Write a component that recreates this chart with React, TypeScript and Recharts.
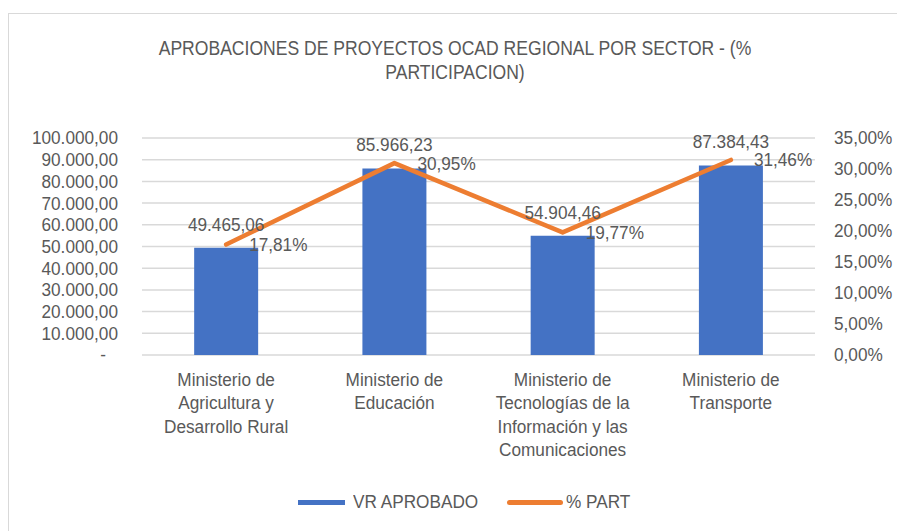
import { ComposedChart, Bar, Line, XAxis, YAxis, CartesianGrid, LabelList } from 'recharts';

const FONT = "'Liberation Sans', Arial, sans-serif";
const TEXT = '#595959';
const SX = 0.93; // reference font is a bit narrower than Arial

const categories = [
    'Ministerio de Agricultura y Desarrollo Rural',
    'Ministerio de Educación',
    'Ministerio de Tecnologías de la Información y las Comunicaciones',
    'Ministerio de Transporte',
];
const categoryLines = [
    ['Ministerio de', 'Agricultura y', 'Desarrollo Rural'],
    ['Ministerio de', 'Educación'],
    ['Ministerio de', 'Tecnologías de la', 'Información y las', 'Comunicaciones'],
    ['Ministerio de', 'Transporte'],
];
const vrAprobado = [49465.06, 85966.23, 54904.46, 87384.43];
const pctPart = [0.1781, 0.3095, 0.1977, 0.3146];

const leftTicks = [0, 10000, 20000, 30000, 40000, 50000, 60000, 70000, 80000, 90000, 100000];
const rightTicks = [0, 0.05, 0.1, 0.15, 0.2, 0.25, 0.3, 0.35];

const data = categories.map((c, i) => ({ name: c, vr: vrAprobado[i], pct: pctPart[i] }));

function fmtNum(n: number) {
    if (n === 0) return '-';
    const [int, dec] = n.toFixed(2).split('.');
    return int.replace(/\B(?=(\d{3})+(?!\d))/g, '.') + ',' + dec;
}
const fmtPct = (v: number) => (v * 100).toFixed(2).replace('.', ',') + '%';

// narrow text drawn at (x, y)
function NText({ x, y, anchor = 'start', dy, children }: any) {
    return (
        <g transform={`translate(${x} ${y}) scale(${SX} 1)`}>
            <text x={0} y={0} dy={dy} textAnchor={anchor} fill={TEXT} fontSize={18.5} fontFamily={FONT}>
                {children}
            </text>
        </g>
    );
}

function CategoryTick({ x, y, index }: any) {
    const lines = categoryLines[index] || [];
    return (
        <g>
            {lines.map((l, i) => (
                <NText key={i} x={x} y={y + 23 + i * 23.4} anchor="middle">{l}</NText>
            ))}
        </g>
    );
}

function LeftTick({ x, y, payload }: any) {
    const zero = payload.value === 0;
    return <NText x={zero ? x - 12 : x} y={y} dy="0.35em" anchor="end">{fmtNum(payload.value)}</NText>;
}

function RightTick({ x, y, payload }: any) {
    return <NText x={x} y={y} dy="0.35em">{fmtPct(payload.value)}</NText>;
}

function BarValueLabel(p: any) {
    return <NText x={Number(p.x) + Number(p.width) / 2} y={Number(p.y) - 17} anchor="middle">{fmtNum(Number(p.value))}</NText>;
}

function PctLabel(p: any) {
    return <NText x={Number(p.x) + 23} y={Number(p.y)} dy="0.35em">{fmtPct(Number(p.value))}</NText>;
}

const htmlText = (left: number, top: number, text: string) => (
    <span
        style={{
            position: 'absolute', left, top, whiteSpace: 'nowrap', transform: `scaleX(${SX})`,
            transformOrigin: 'left center', fontFamily: FONT, fontSize: 18.5, lineHeight: '22px', color: TEXT,
        }}
    >
        {text}
    </span>
);

export default function App() {
    return (
        <div style={{ position: 'relative', width: 897, height: 531, background: '#fff', overflow: 'hidden' }}>
            <style>{'body{margin:0}'}</style>
            <div style={{ position: 'absolute', left: 8, top: 13, width: 1000, height: 1000, border: '1.5px solid #d9d9d9' }} />
            <div
                style={{
                    position: 'absolute', left: 0, top: 36, width: 910, textAlign: 'center',
                    fontFamily: FONT, fontSize: 19.5, lineHeight: '24px', color: TEXT,
                    transform: 'scaleX(0.9)', transformOrigin: '455px 0',
                }}
            >
                APROBACIONES DE PROYECTOS OCAD REGIONAL POR SECTOR - (%<br />PARTICIPACION)
            </div>
            <ComposedChart
                width={897}
                height={531}
                data={data}
                margin={{ top: 138, right: 0, bottom: 0, left: 0 }}
                barCategoryGap="31%"
                style={{ position: 'absolute', left: 0, top: 0 }}
            >
                <CartesianGrid yAxisId="left" vertical={false} stroke="#d9d9d9" strokeWidth={1.5} />
                <XAxis
                    xAxisId="grid"
                    type="number"
                    domain={[0, 4]}
                    ticks={[0, 1, 2, 3, 4]}
                    tick={false}
                    tickSize={8}
                    height={0}
                    stroke="#d9d9d9"
                    strokeWidth={1.5}
                />
                <XAxis
                    dataKey="name"
                    height={176}
                    axisLine={false}
                    tickLine={false}
                    interval={0}
                    tick={<CategoryTick />}
                />
                <YAxis
                    yAxisId="left"
                    domain={[0, 100000]}
                    ticks={leftTicks}
                    width={142}
                    axisLine={false}
                    tickLine={false}
                    tickSize={0}
                    tickMargin={24}
                    interval={0}
                    tick={<LeftTick />}
                />
                <YAxis
                    yAxisId="right"
                    orientation="right"
                    domain={[0, 0.35]}
                    ticks={rightTicks}
                    width={82}
                    axisLine={false}
                    tickLine={false}
                    tickSize={0}
                    tickMargin={19}
                    interval={0}
                    tick={<RightTick />}
                />
                <Bar yAxisId="left" dataKey="vr" fill="#4472C4" isAnimationActive={false}>
                    <LabelList dataKey="vr" content={<BarValueLabel />} />
                </Bar>
                <Line
                    yAxisId="right"
                    dataKey="pct"
                    stroke="#ED7D31"
                    strokeWidth={4.5}
                    strokeLinecap="round"
                    strokeLinejoin="round"
                    dot={false}
                    activeDot={false}
                    isAnimationActive={false}
                >
                    <LabelList dataKey="pct" content={<PctLabel />} />
                </Line>
            </ComposedChart>
            <div style={{ position: 'absolute', left: 298, top: 500, width: 47, height: 5, background: '#4472C4' }} />
            {htmlText(353, 491, 'VR APROBADO')}
            <div style={{ position: 'absolute', left: 507, top: 500, width: 56, height: 5, background: '#ED7D31', borderRadius: 3 }} />
            {htmlText(566, 491, '% PART')}
        </div>
    );
}
